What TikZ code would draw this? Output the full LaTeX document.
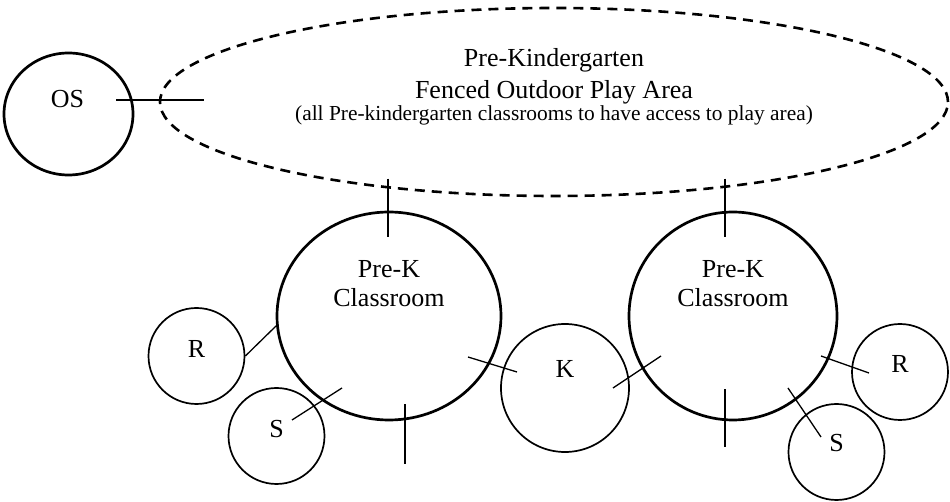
\documentclass[tikz,border=0pt]{standalone}
\usepackage{fontspec}
\setmainfont{Liberation Serif}
\usepackage{tikz}
\usetikzlibrary{shapes.geometric}
\usetikzlibrary{positioning}
\usetikzlibrary{calc}

\begin{document}
\begin{tikzpicture}[
	x=0.5pt, y=-0.5pt,
	roomshape/.style={
		draw,
		ellipse,
		line width=1.35pt,
		inner sep=0,
	},
	smallroom/.style={
		draw,
		circle,
		line width=0.85pt,
		inner sep=0,
		minimum size=48pt,
	},
	fence/.style={
		draw,
		ellipse,
		line width=1.3pt,
		dash pattern=on 5pt off 3.5pt,
		inner sep=0,
	},
	door/.style={
		line width=0.65pt,
	},
	lbl/.style={
		align=center,
		inner sep=0,
	},
	font=\fontsize{13}{14.5}\selectfont,
]
\useasboundingbox (0,0) rectangle (950,502);

% outdoor play area
\node [fence, minimum width=394pt, minimum height=94pt] (play) at (554,102) {};
\node [lbl, font=\fontsize{13}{16}\selectfont] (playtitle) at ($(play.center)+(0,-26)$) {Pre-Kindergarten\\Fenced Outdoor Play Area};
\node [lbl, font=\fontsize{10.7}{12}\selectfont] (playnote) at ($(play.center)+(0,13)$) {(all Pre-kindergarten classrooms to have access to play area)};
%
\node [roomshape, minimum width=64.5pt, minimum height=61pt] (os) at (68.5,114) {};
\node [lbl] (oslbl) at ($(os.center)+(-1,-15)$) {OS};

% classrooms
\node [roomshape, minimum width=112pt, minimum height=104pt] (prekA) at (389,316) {};
\node [lbl] (prekAlbl) at ($(prekA.center)+(0,-32)$) {Pre-K\\Classroom};
%
\node [roomshape, minimum width=104pt, minimum height=104pt] (prekB) at (733,316) {};
\node [lbl] (prekBlbl) at ($(prekB.center)+(0,-32)$) {Pre-K\\Classroom};

% small rooms
\node [smallroom] (restA) at (196.5,356) {};
\node [lbl] at ($(restA.center)+(0,-7)$) {R};
\node [smallroom] (sinkA) at (276.5,436) {};
\node [lbl] at ($(sinkA.center)+(0,-7)$) {S};
\node [smallroom, minimum size=64pt] (kitchen) at (565,388) {};
\node [lbl] at ($(kitchen.center)+(0,-19)$) {K};
\node [smallroom] (restB) at (900,372) {};
\node [lbl] at ($(restB.center)+(0,-8)$) {R};
\node [smallroom] (sinkB) at (836.5,452) {};
\node [lbl] at ($(sinkB.center)+(0,-9)$) {S};

% doors
\draw [door] ($(os.center)+(47.5,-14)$) -- ($(play.west)+(45,-2)$);
\draw [door] ($(prekA.north)+(-1,-32)$) -- ($(prekA.north)+(-1,26)$);
\draw [door] ($(prekB.north)+(-8,-32)$) -- ($(prekB.north)+(-8,26)$);
\draw [door] ($(prekA.south)+(16,-17)$) -- ($(prekA.south)+(16,43)$);
\draw [door] ($(prekB.south)+(-8,-32)$) -- ($(prekB.south)+(-8,26)$);
\draw [door] (restA.east) -- (prekA.185);
\draw [door] ($(sinkA.center)+(15.5,-16)$) -- ($(prekA.center)+(-47,72)$);
\draw [door] ($(prekA.center)+(79,41)$) -- ($(kitchen.center)+(-48,-16)$);
\draw [door] ($(kitchen.center)+(48,0)$) -- ($(prekB.center)+(-72,40)$);
\draw [door] ($(prekB.center)+(88,40)$) -- ($(restB.center)+(-31,1)$);
\draw [door] ($(prekB.center)+(55,72)$) -- ($(sinkB.center)+(-15.5,-15)$);
\end{tikzpicture}
\end{document}
